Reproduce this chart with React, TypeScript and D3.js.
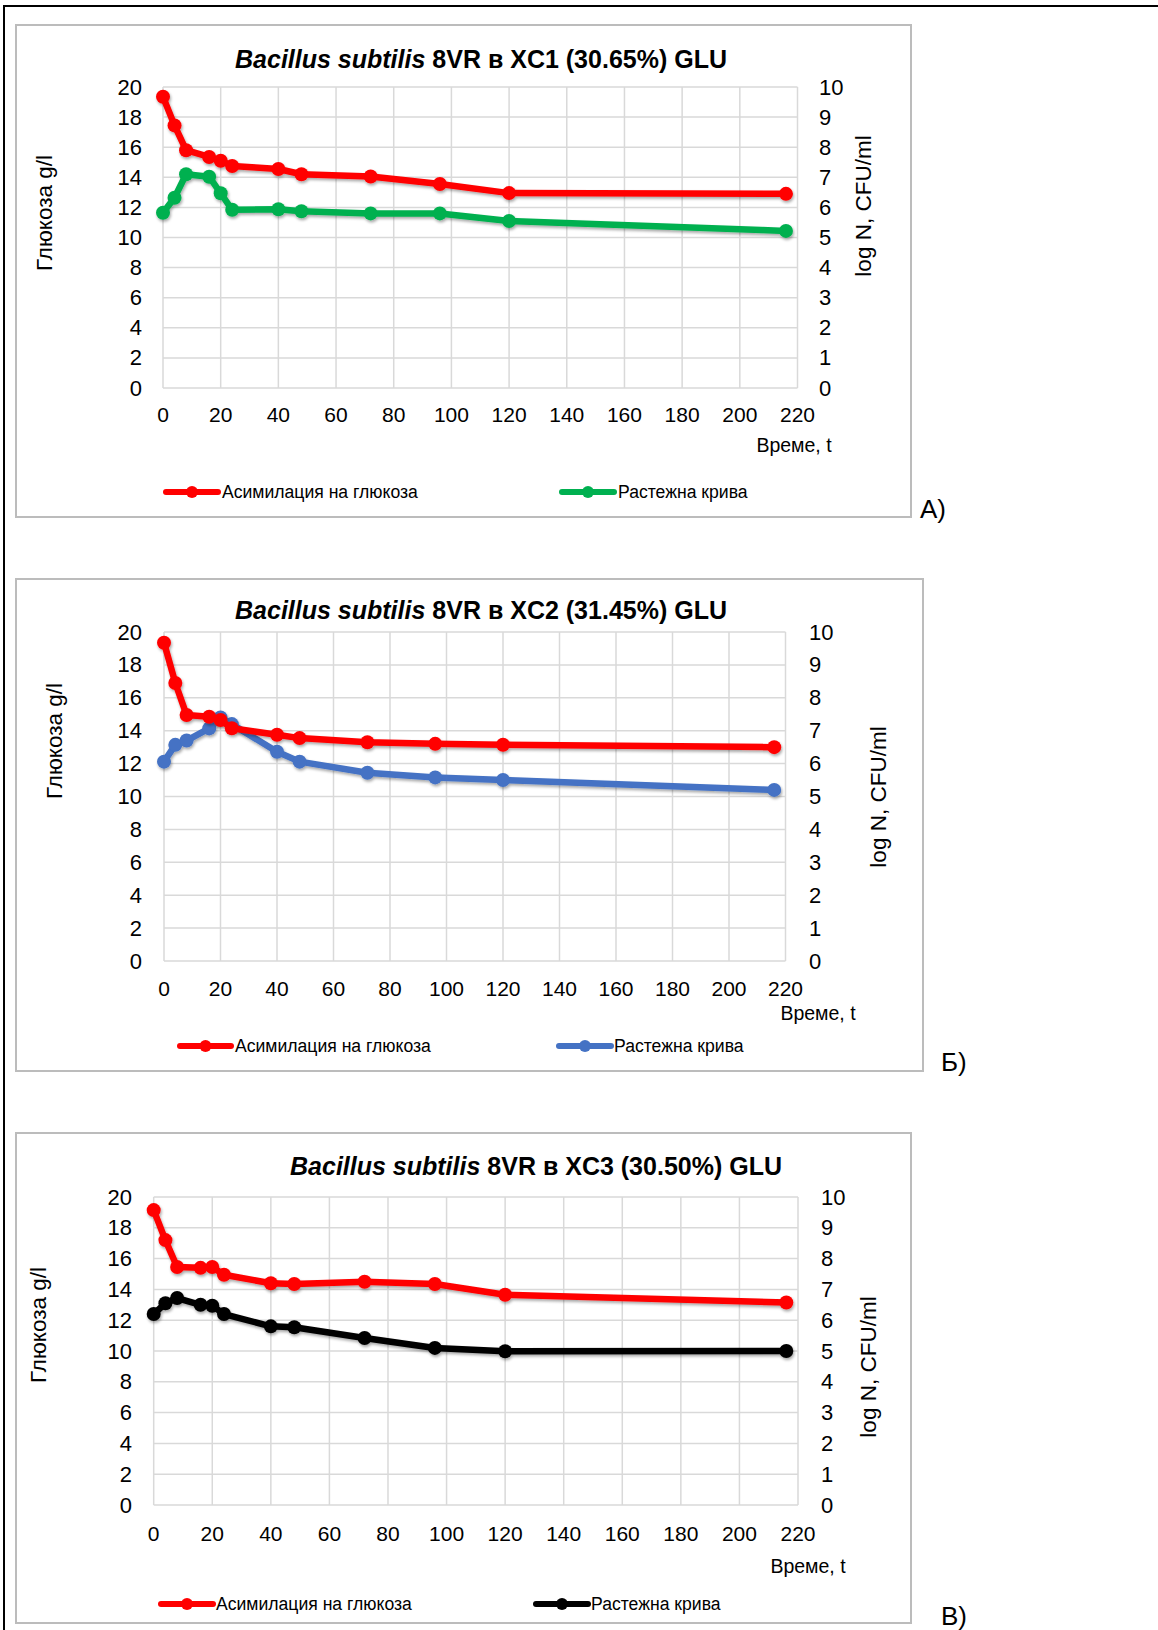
import React from "react";
import * as d3 from "d3";

// ---------- DATA ----------
const times = [0, 4, 8, 16, 20, 24, 40, 48, 72, 96, 120, 216];

const glucoseA = [19.35, 17.45, 15.8, 15.35, 15.1, 14.75, 14.55, 14.2, 14.05, 13.55, 12.95, 12.9];
const growthA = [5.82, 6.32, 7.1, 7.02, 6.47, 5.92, 5.94, 5.87, 5.8, 5.8, 5.55, 5.22];

const glucoseB = [19.35, 16.9, 14.95, 14.85, 14.65, 14.15, 13.75, 13.55, 13.3, 13.2, 13.15, 13.0];
const growthB = [6.06, 6.57, 6.7, 7.07, 7.4, 7.2, 6.36, 6.06, 5.72, 5.58, 5.5, 5.2];

const glucoseC = [19.15, 17.2, 15.45, 15.4, 15.45, 14.95, 14.4, 14.35, 14.5, 14.35, 13.65, 13.15];
const growthC = [6.2, 6.55, 6.72, 6.5, 6.47, 6.2, 5.8, 5.77, 5.42, 5.1, 4.99, 5.0];

const xTicks = [0, 20, 40, 60, 80, 100, 120, 140, 160, 180, 200, 220];
const leftTicks = [0, 2, 4, 6, 8, 10, 12, 14, 16, 18, 20];
const rightTicks = [0, 1, 2, 3, 4, 5, 6, 7, 8, 9, 10];

const titlesMid = ["XC1 (30.65%) GLU", "XC2 (31.45%) GLU", "XC3 (30.50%) GLU"];
const panelLabels = ["А)", "Б)", "В)"];
const growthColors = ["#00B050", "#4472C4", "#000000"];
const glucoseColor = "#FF0000";
const legendGlucose = "Асимилация на глюкоза";
const legendGrowth = "Растежна крива";
const leftTitle = "Глюкоза g/l";
const rightTitle = "log N, CFU/ml";
const xTitle = "Време, t";

// ---------- LAYOUT ----------
const layouts = [
  {
    box: [16, 25, 911, 517], x0: 163, x1: 797.5, yTop: 87, yBot: 388,
    title: [481, 59], leftLab: 142, rightLab: 819, xLabY: 414,
    leftTitle: [44, 213], rightTitle: [863, 206], xTitle: [794, 445],
    legY: 492, leg1: [166, 218, 222], leg2: [562, 614, 618], panel: [920, 509],
  },
  {
    box: [16, 579, 923, 1071], x0: 164, x1: 785.5, yTop: 632, yBot: 961,
    title: [481, 610], leftLab: 142, rightLab: 809, xLabY: 988,
    leftTitle: [54, 741], rightTitle: [878, 797], xTitle: [818, 1013],
    legY: 1046, leg1: [180, 231, 235], leg2: [559, 611, 614], panel: [941, 1062],
  },
  {
    box: [16, 1133, 911, 1623], x0: 153.7, x1: 798, yTop: 1197, yBot: 1505,
    title: [536, 1166], leftLab: 132, rightLab: 821, xLabY: 1533,
    leftTitle: [38, 1325], rightTitle: [868, 1367], xTitle: [808, 1566],
    legY: 1604, leg1: [161, 213, 216], leg2: [536, 588, 591], panel: [941, 1616],
  },
];

const glucoseSets = [glucoseA, glucoseB, glucoseC];
const growthSets = [growthA, growthB, growthC];

const FONT = "'Liberation Sans', Arial, Helvetica, sans-serif";

function Chart({ idx }: { idx: number }) {
  const L = layouts[idx];
  const x = d3.scaleLinear().domain([0, 220]).range([L.x0, L.x1]);
  const yL = d3.scaleLinear().domain([0, 20]).range([L.yBot, L.yTop]);
  const yR = d3.scaleLinear().domain([0, 10]).range([L.yBot, L.yTop]);
  const glu = glucoseSets[idx];
  const gro = growthSets[idx];
  const lineL = d3.line<number>().x((_, i) => x(times[i])).y((d) => yL(d));
  const lineR = d3.line<number>().x((_, i) => x(times[i])).y((d) => yR(d));
  const gc = growthColors[idx];
  const [bx0, by0, bx1, by1] = L.box;

  const series = (
    data: number[],
    path: string | null,
    color: string,
    ys: (v: number) => number
  ) => (
    <g filter="url(#soft)">
      <path d={path || ""} fill="none" stroke={color} strokeWidth={6.5} strokeLinejoin="round" strokeLinecap="round" />
      {data.map((v, i) => (
        <circle key={i} cx={x(times[i])} cy={ys(v)} r={7} fill={color} />
      ))}
    </g>
  );

  return (
    <g>
      <rect x={bx0} y={by0} width={bx1 - bx0} height={by1 - by0} fill="#fff" stroke="#bcbcbc" strokeWidth={2} />
      {/* grid */}
      {leftTicks.map((t) => (
        <line key={"h" + t} x1={L.x0} x2={L.x1} y1={yL(t)} y2={yL(t)} stroke="#d9d9d9" strokeWidth={1.5} />
      ))}
      {xTicks.map((t) => (
        <line key={"v" + t} x1={x(t)} x2={x(t)} y1={L.yTop} y2={L.yBot} stroke="#d9d9d9" strokeWidth={1.5} />
      ))}
      {/* title */}
      <text x={L.title[0]} y={L.title[1]} textAnchor="middle" dominantBaseline="central" fontFamily={FONT} fontWeight="bold" fontSize={25}>
        <tspan fontStyle="italic">Bacillus subtilis</tspan>
        <tspan> 8VR в {titlesMid[idx]}</tspan>
      </text>
      {/* tick labels */}
      {leftTicks.map((t) => (
        <text key={"l" + t} x={L.leftLab} y={yL(t)} textAnchor="end" dominantBaseline="central" fontFamily={FONT} fontSize={22}>
          {t}
        </text>
      ))}
      {rightTicks.map((t) => (
        <text key={"r" + t} x={L.rightLab} y={yR(t)} textAnchor="start" dominantBaseline="central" fontFamily={FONT} fontSize={22}>
          {t}
        </text>
      ))}
      {xTicks.map((t) => (
        <text key={"x" + t} x={x(t)} y={L.xLabY} textAnchor="middle" dominantBaseline="central" fontFamily={FONT} fontSize={21}>
          {t}
        </text>
      ))}
      <text transform={`translate(${L.leftTitle[0]},${L.leftTitle[1]}) rotate(-90)`} textAnchor="middle" dominantBaseline="central" fontFamily={FONT} fontSize={22.5}>
        {leftTitle}
      </text>
      <text transform={`translate(${L.rightTitle[0]},${L.rightTitle[1]}) rotate(-90)`} textAnchor="middle" dominantBaseline="central" fontFamily={FONT} fontSize={22.5}>
        {rightTitle}
      </text>
      <text x={L.xTitle[0]} y={L.xTitle[1]} textAnchor="middle" dominantBaseline="central" fontFamily={FONT} fontSize={19.5}>
        {xTitle}
      </text>
      {/* series */}
      {series(gro, lineR(gro), gc, yR)}
      {series(glu, lineL(glu), glucoseColor, yL)}
      {/* legend */}
      <line x1={L.leg1[0]} x2={L.leg1[1]} y1={L.legY} y2={L.legY} stroke={glucoseColor} strokeWidth={6} strokeLinecap="round" />
      <circle cx={(L.leg1[0] + L.leg1[1]) / 2} cy={L.legY} r={6} fill={glucoseColor} />
      <text x={L.leg1[2]} y={L.legY} dominantBaseline="central" fontFamily={FONT} fontSize={17.6}>
        {legendGlucose}
      </text>
      <line x1={L.leg2[0]} x2={L.leg2[1]} y1={L.legY} y2={L.legY} stroke={gc} strokeWidth={6} strokeLinecap="round" />
      <circle cx={(L.leg2[0] + L.leg2[1]) / 2} cy={L.legY} r={6} fill={gc} />
      <text x={L.leg2[2]} y={L.legY} dominantBaseline="central" fontFamily={FONT} fontSize={17.6}>
        {legendGrowth}
      </text>
      {/* panel label */}
      <text x={L.panel[0]} y={L.panel[1]} dominantBaseline="central" fontFamily={FONT} fontSize={26}>
        {panelLabels[idx]}
      </text>
    </g>
  );
}

export default function App() {
  return (
    <svg
      width={1158}
      height={1630}
      viewBox="0 0 1158 1630"
      style={{ position: "absolute", left: 0, top: 0, background: "#fff" }}
    >
      <defs>
        <filter id="soft" x="-5%" y="-20%" width="110%" height="140%">
          <feGaussianBlur in="SourceAlpha" stdDeviation="1.5" />
          <feOffset dx="1" dy="2" result="b" />
          <feComponentTransfer>
            <feFuncA type="linear" slope="0.35" />
          </feComponentTransfer>
          <feMerge>
            <feMergeNode />
            <feMergeNode in="SourceGraphic" />
          </feMerge>
        </filter>
      </defs>
      <rect x={0} y={0} width={1158} height={1630} fill="#fff" />
      {/* page frame */}
      <line x1={3} x2={1158} y1={6} y2={6} stroke="#000" strokeWidth={2} />
      <line x1={4} x2={4} y1={5} y2={1630} stroke="#000" strokeWidth={2} />
      {[0, 1, 2].map((i) => (
        <Chart key={i} idx={i} />
      ))}
    </svg>
  );
}
